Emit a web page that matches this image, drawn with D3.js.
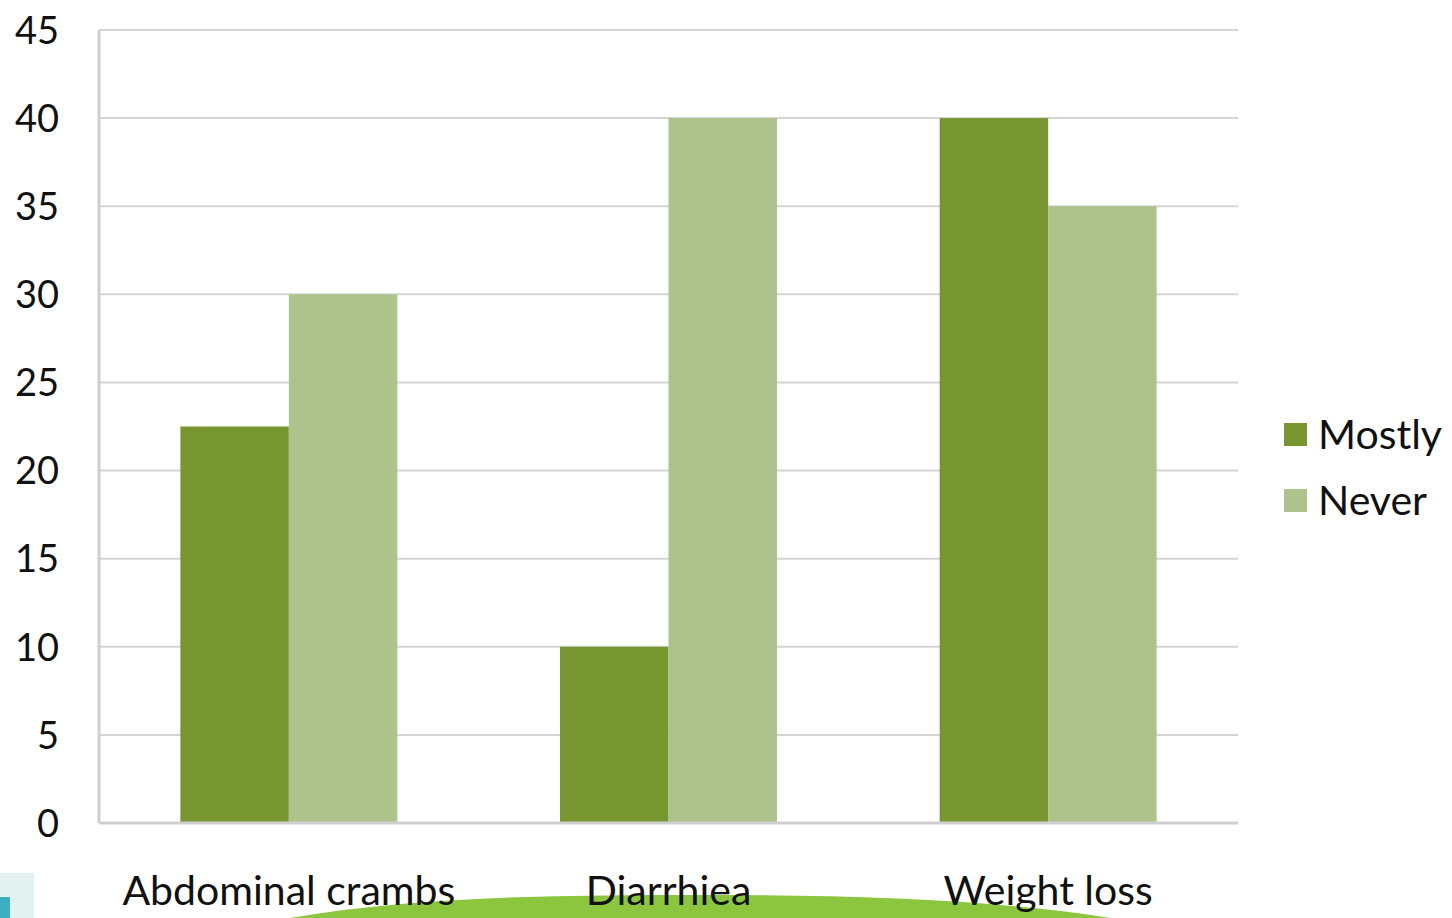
<!DOCTYPE html>
<html>
<head>
<meta charset="utf-8">
<script src="https://cdn.jsdelivr.net/npm/d3@7"></script>
<style>
  body { margin: 0; background: #fff; overflow: hidden; }
  text { font-family: "Lato", "Open Sans", sans-serif; fill: #111; }
</style>
</head>
<body>
<script>
var categories = ["Abdominal crambs", "Diarrhiea", "Weight loss"];
var seriesNames = ["Mostly", "Never"];
var mostly = [22.5, 10, 40];
var never = [30, 40, 35];
var yTicks = [0, 5, 10, 15, 20, 25, 30, 35, 40, 45];
var colors = ["#77962f", "#adc38b"];

var width = 1452, height = 918;
var margin = {top: 30, right: 214, bottom: 95, left: 99};

var svg = d3.select("body").append("svg")
    .attr("width", width)
    .attr("height", height);

// background decoration at the bottom of the slide
svg.append("path")
    .attr("d", "M290,918 C420,896 560,895 700,895 C860,895 1000,900 1110,918 Z")
    .attr("fill", "#8cc63e");
svg.append("rect").attr("x", 0).attr("y", 873).attr("width", 34).attr("height", 45).attr("fill", "#e3f1f0");
svg.append("rect").attr("x", 0).attr("y", 897).attr("width", 10).attr("height", 21).attr("fill", "#3ab0c0");

var x0 = d3.scaleBand()
    .domain(categories)
    .range([margin.left, width - margin.right]);

var x1 = d3.scaleBand()
    .domain(seriesNames)
    .range([0, x0.bandwidth()])
    .paddingOuter(0.75)
    .paddingInner(0);

var y = d3.scaleLinear()
    .domain([0, 45])
    .range([height - margin.bottom, margin.top]);

// gridlines
svg.append("g")
    .selectAll("line")
    .data(yTicks.filter(function (d) { return d > 0; }))
    .enter().append("line")
    .attr("x1", margin.left)
    .attr("x2", width - margin.right)
    .attr("y1", function (d) { return y(d); })
    .attr("y2", function (d) { return y(d); })
    .attr("stroke", "#d4d4d4")
    .attr("stroke-width", 2);

var table = categories.map(function (c, i) {
    return {cat: c, values: [mostly[i], never[i]]};
});

var groups = svg.append("g").selectAll("g")
    .data(table)
    .enter().append("g")
    .attr("transform", function (d) { return "translate(" + x0(d.cat) + ",0)"; });

groups.selectAll("rect")
    .data(function (d) { return d.values.map(function (v, j) { return {s: seriesNames[j], v: v, j: j}; }); })
    .enter().append("rect")
    .attr("x", function (d) { return x1(d.s); })
    .attr("y", function (d) { return y(d.v); })
    .attr("width", x1.bandwidth())
    .attr("height", function (d) { return y(0) - y(d.v); })
    .attr("fill", function (d) { return colors[d.j]; });

// axes lines
svg.append("line")
    .attr("x1", margin.left).attr("x2", margin.left)
    .attr("y1", margin.top).attr("y2", y(0))
    .attr("stroke", "#cfcfcf").attr("stroke-width", 3);
svg.append("line")
    .attr("x1", margin.left).attr("x2", width - margin.right)
    .attr("y1", y(0)).attr("y2", y(0))
    .attr("stroke", "#cfcfcf").attr("stroke-width", 3);

var yAxis = d3.axisLeft(y).tickValues(yTicks).tickSize(0).tickPadding(0);
var gy = svg.append("g")
    .attr("transform", "translate(59,0)")
    .call(yAxis);
gy.select(".domain").remove();
gy.selectAll("text")
    .style("font-size", "38px")
    .attr("fill", "#111")
    .attr("dy", "0.35em");

var xAxis = d3.axisBottom(x0).tickSize(0).tickPadding(0);
var gx = svg.append("g")
    .attr("transform", "translate(0,905)")
    .call(xAxis);
gx.select(".domain").remove();
gx.selectAll("text")
    .style("font-size", "41px")
    .attr("fill", "#111")
    .attr("dy", "0");

// legend
var legend = svg.append("g").selectAll("g")
    .data(seriesNames)
    .enter().append("g")
    .attr("transform", function (d, i) { return "translate(1284," + (423 + i * 66) + ")"; });
legend.append("rect")
    .attr("width", 23).attr("height", 23)
    .attr("fill", function (d, i) { return colors[i]; });
legend.append("text")
    .attr("x", 34).attr("y", 12).attr("dy", "0.35em")
    .style("font-size", "41px")
    .text(function (d) { return d; });
</script>
</body>
</html>
